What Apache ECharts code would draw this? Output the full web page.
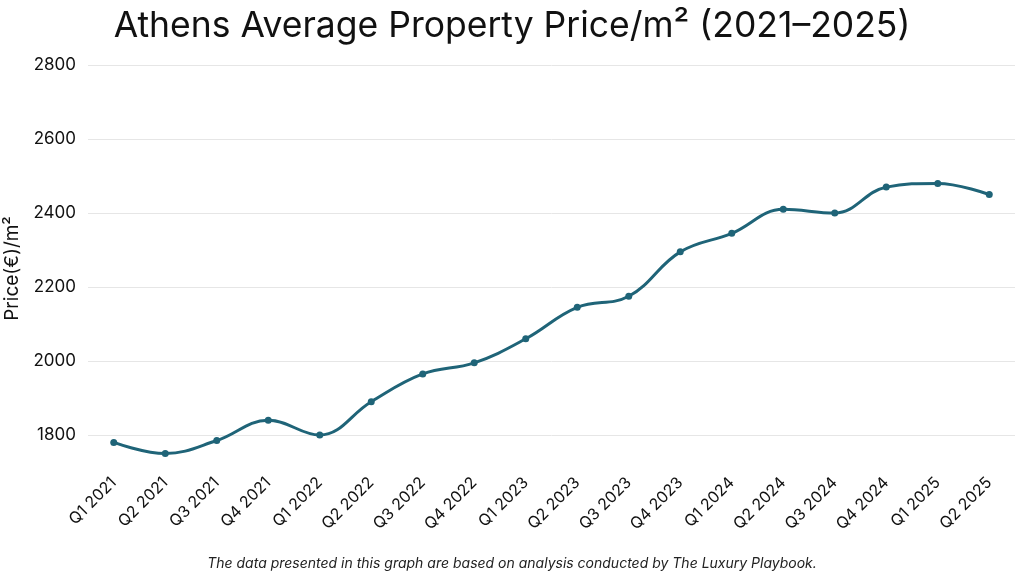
<!DOCTYPE html>
<html><head><meta charset="utf-8">
<script src="https://cdn.jsdelivr.net/npm/echarts@6/dist/echarts.min.js"></script>
<style>html,body{margin:0;padding:0;background:#fff}#c{width:1024px;height:576px}</style>
</head><body><div id="c"></div>
<script>
const categories = ['Q1 2021','Q2 2021','Q3 2021','Q4 2021','Q1 2022','Q2 2022','Q3 2022','Q4 2022','Q1 2023','Q2 2023','Q3 2023','Q4 2023','Q1 2024','Q2 2024','Q3 2024','Q4 2024','Q1 2025','Q2 2025'];
const prices = [1780,1750,1785,1840,1800,1890,1965,1995,2060,2145,2175,2295,2345,2410,2400,2470,2480,2450];
const titleText = 'Athens Average Property Price/m\u00B2 (2021\u20132025)';
const yName = 'Price(\u20AC)/m\u00B2';
const footer = 'The data presented in this graph are based on analysis conducted by The Luxury Playbook.';
const font = 'Inter, "Open Sans", sans-serif';
const chart = echarts.init(document.getElementById('c'));
chart.setOption({
  animation:false,
  title:[
    {text:titleText,left:'center',top:3,textStyle:{fontFamily:font,fontSize:35.5,fontWeight:'normal',color:'#111'}},
    {text:footer,left:'center',bottom:0,textStyle:{fontFamily:font,fontSize:14,fontStyle:'italic',fontWeight:'normal',color:'#222'}}
  ],
  grid:{left:88,right:9,top:65,bottom:104,containLabel:false,outerBoundsMode:'none'},
  xAxis:{type:'category',data:categories,boundaryGap:true,
    axisLine:{show:false},axisTick:{show:false},
    axisLabel:{rotate:45,interval:0,fontFamily:font,fontSize:16,color:'#111',margin:8}},
  yAxis:{type:'value',min:1700,max:2800,interval:100,
    name:yName,nameLocation:'middle',nameGap:66,nameRotate:90,
    nameTextStyle:{fontFamily:font,fontSize:19,color:'#111'},
    axisLine:{show:false},axisTick:{show:false},
    axisLabel:{fontFamily:font,fontSize:17,color:'#111',margin:12,
      formatter:v=> (v%200===0 ? String(v) : '')},
    splitLine:{lineStyle:{color:['transparent','#e6e6e6'],width:1}}},
  series:[{type:'line',data:prices,smooth:0.4,symbol:'circle',symbolSize:7,
    lineStyle:{color:'#1f6478',width:3},itemStyle:{color:'#1f6478'}}]
});
</script></body></html>
